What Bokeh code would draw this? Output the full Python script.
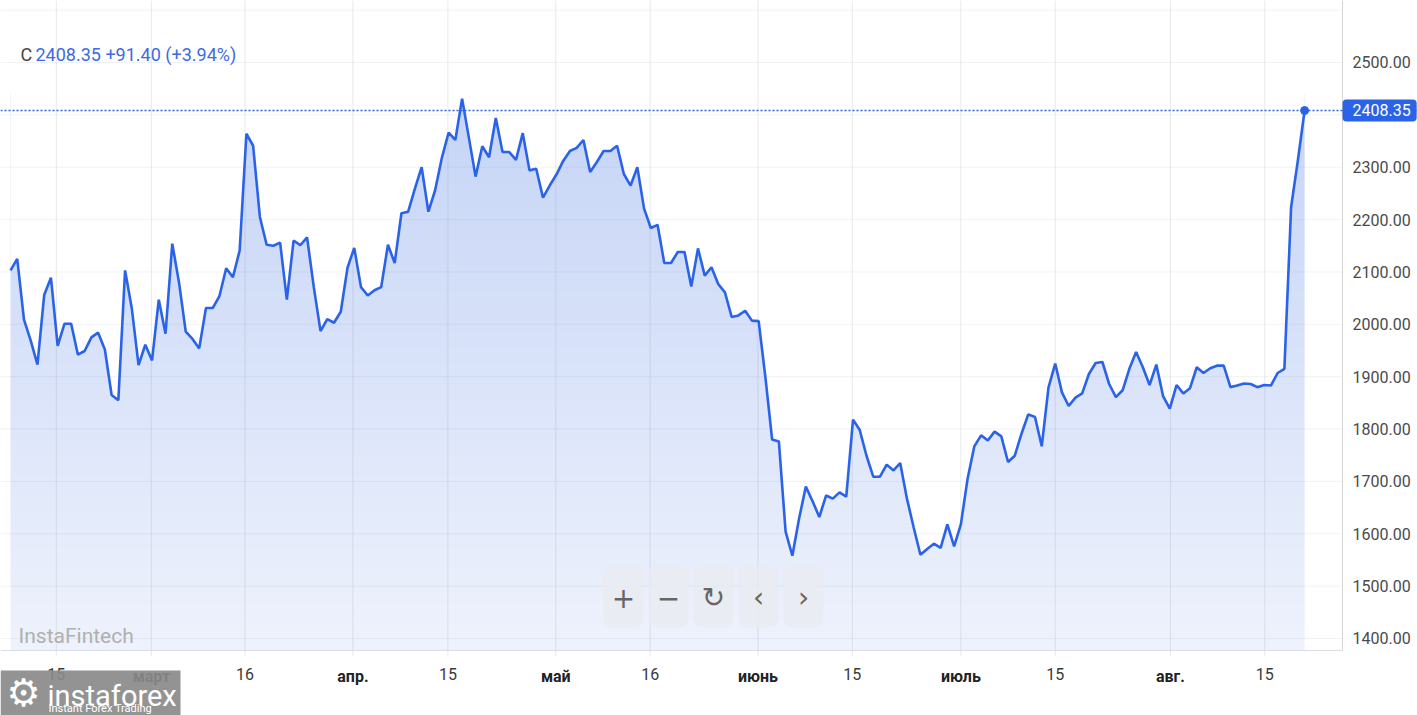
import numpy as np
from bokeh.plotting import figure
from bokeh.models import (Range1d, FixedTicker, Span, Label, BoxAnnotation,
                          NumeralTickFormatter, LinearAxis)
from bokeh.embed import file_html
from bokeh.resources import INLINE

# ---------------- data ----------------
ticker_name = "C"
last_price = 2408.35
change_abs = 91.40
change_pct = 3.94

prices = [
    2103, 2125, 2009, 1969, 1923, 2056, 2089, 1959, 2001, 2001, 1942, 1949, 1975, 1984, 1952,
    1865, 1855, 2103, 2030, 1922, 1961, 1931, 2047, 1982, 2154, 2080, 1986, 1972, 1954, 2031,
    2031, 2054, 2107, 2090, 2141, 2364, 2341, 2205,
    2152, 2150, 2156, 2047, 2160, 2151, 2166, 2071, 1987, 2010, 2003, 2024, 2108, 2146, 2071,
    2055, 2065, 2071, 2152, 2117, 2212, 2215, 2259, 2300, 2215, 2256, 2318, 2366, 2352, 2431,
    2357, 2282, 2340, 2319, 2394, 2329, 2329,
    2314, 2365, 2294, 2297, 2242, 2265, 2286, 2312, 2331, 2337, 2352, 2291, 2310, 2331, 2331,
    2341, 2287, 2265, 2300, 2221, 2184, 2190, 2117, 2117, 2138, 2138, 2072, 2145, 2093, 2109,
    2077, 2061, 2014, 2017, 2026, 2007, 2006, 1899, 1780,
    1776, 1604, 1558, 1629, 1690, 1662, 1632, 1673, 1667, 1679, 1671, 1818, 1798, 1749, 1709,
    1709, 1732, 1721, 1735, 1667, 1612, 1560, 1571, 1581, 1573, 1618, 1576, 1618, 1705, 1767,
    1788, 1778, 1795, 1786, 1737, 1749,
    1791, 1828, 1823, 1767, 1879, 1925, 1870, 1844, 1860, 1868, 1905, 1926, 1928, 1886, 1861,
    1874, 1915, 1947, 1918, 1884, 1923, 1863, 1839, 1884, 1868, 1878, 1918, 1907, 1916, 1921,
    1921, 1880, 1883, 1887, 1886, 1880, 1884, 1883, 1907, 1915, 2224, 2313, 2408.35,
]
days = list(range(len(prices)))

tick_days = [6.8, 20.9, 34.8, 50.8, 64.9, 80.9, 94.9, 110.9, 124.9, 141.0, 155.0, 172.1, 186.1]
tick_labels = ["15", "март", "16", "апр.", "15", "май", "16", "июнь", "15", "июль", "15", "авг.", "15"]
month_labels = {"март", "апр.", "май", "июнь", "июль", "авг."}

y_axis_ticks = [1400, 1500, 1600, 1700, 1800, 1900, 2000, 2100, 2200, 2300, 2500]
y_grid_ticks = [1400, 1500, 1600, 1700, 1800, 1900, 2000, 2100, 2200, 2300, 2400, 2500, 2600]

watermark = "InstaFintech"
logo_main = "instaforex"
logo_sub = "Instant Forex Trading"
buttons = ["+", "−", "↻", "‹", "›"]

# ---------------- layout constants ----------------
FONT = "Roboto"
BLUE = "#2b63e8"
W, H = 1417, 715
X_MIN, X_MAX = -1.484, 208.75        # visible index range
Y_MIN, Y_MAX = 1252.9, 2618.4        # visible value range
AXIS_X = 197.63                      # where the price axis sits
AXIS_Y = 1377.0                      # where the time axis sits
TICK_Y = 1365.5                      # end of the small time ticks
GRAD_TOP = 2440.0                    # level where the fill gradient is darkest
FILL_BOTTOM = (238, 242, 252)
FILL_TOP = (197, 212, 246)

p = figure(width=W, height=H, output_backend="svg", toolbar_location=None,
           x_range=Range1d(X_MIN, X_MAX), y_range=Range1d(Y_MIN, Y_MAX),
           x_axis_location=None, y_axis_location=None,
           min_border_left=0, min_border_right=0, min_border_top=0, min_border_bottom=0,
           background_fill_color="white", border_fill_color="white", outline_line_color=None)
p.xgrid.visible = False
p.ygrid.visible = False

# vertical gradient fill under the line: gradient image, masked above the line
n = 256
tt = np.linspace(0.0, 1.0, n)[:, None]
rgba = np.zeros((n, 1, 4), dtype=np.uint8)
for c in range(3):
    rgba[:, :, c] = np.round(FILL_BOTTOM[c] + (FILL_TOP[c] - FILL_BOTTOM[c]) * tt).astype(np.uint8)
rgba[:, :, 3] = 255
img = rgba.view(dtype=np.uint32).reshape((n, 1))
p.image_rgba(image=[img], x=days[0], y=AXIS_Y, dw=days[-1] - days[0], dh=GRAD_TOP - AXIS_Y)
arr = np.array(prices, dtype=float)
p.varea(x=days, y1=arr, y2=Y_MAX, fill_color="white")

# grid lines (stop at the axes), drawn over the fill
p.segment(x0=X_MIN, x1=AXIS_X, y0=y_grid_ticks, y1=y_grid_ticks,
          line_color="#8a90a0", line_alpha=0.12, line_width=1)
p.segment(x0=tick_days, x1=tick_days, y0=TICK_Y, y1=Y_MAX,
          line_color="#8a90a0", line_alpha=0.2, line_width=1)

p.line(days, arr, line_color=BLUE, line_width=2.6)
p.add_layout(Span(location=last_price, dimension="width", line_color=BLUE,
                  line_width=1.6, line_dash="2 2"))
p.scatter(x=[days[-1]], y=[prices[-1]], size=8, color=BLUE)

# time axis
xa = LinearAxis(fixed_location=AXIS_Y, bounds=(X_MIN, AXIS_X),
                ticker=FixedTicker(ticks=tick_days))
xa.major_label_overrides = {d: ("" if l in month_labels else l) for d, l in zip(tick_days, tick_labels)}
xa.axis_line_color = "#d9dde6"
xa.major_tick_line_color = None
xa.major_tick_out = 0
xa.major_tick_in = 0
xa.minor_tick_line_color = None
xa.major_label_text_font = FONT
xa.major_label_text_font_size = "16px"
xa.major_label_text_color = "#3a3a3a"
xa.major_label_standoff = 17
p.add_layout(xa, "below")

# price axis
ya = LinearAxis(fixed_location=AXIS_X, bounds=(AXIS_Y, Y_MAX),
                ticker=FixedTicker(ticks=y_axis_ticks),
                formatter=NumeralTickFormatter(format="0.00"))
ya.axis_line_color = "#d5d5d5"
ya.major_tick_line_color = None
ya.major_tick_out = 0
ya.major_tick_in = 0
ya.minor_tick_line_color = None
ya.major_label_text_font = FONT
ya.major_label_text_font_size = "16px"
ya.major_label_text_color = "#4a4a4a"
ya.major_label_standoff = 10
p.add_layout(ya, "right")

# month labels (bolder)
for d, l in zip(tick_days, tick_labels):
    if l in month_labels:
        p.add_layout(Label(x=d, y=39, y_units="screen", text=l, text_align="center",
                           text_baseline="middle", text_font=FONT, text_font_size="16px",
                           text_font_style="bold", text_color="#222222"))

# price tag on the price axis
p.add_layout(Label(x=1342, x_units="screen", y=last_price, text=f"{last_price:.2f}",
                   text_align="left", text_baseline="middle", text_color="white",
                   text_font=FONT, text_font_size="16px",
                   background_fill_color=BLUE, border_radius=4,
                   padding=dict(left=10, right=6, top=5, bottom=5)))

# header
p.add_layout(Label(x=20, y=661, x_units="screen", y_units="screen", text=ticker_name,
                   text_baseline="middle", text_font=FONT, text_font_size="18px",
                   text_color="#444444"))
p.add_layout(Label(x=35, y=661, x_units="screen", y_units="screen",
                   text=f"{last_price:.2f}  {change_abs:+.2f} ({change_pct:+.2f}%)",
                   text_baseline="middle", text_font=FONT, text_font_size="18px",
                   text_color="#3d6be0"))

# watermark
p.add_layout(Label(x=18, y=80, x_units="screen", y_units="screen", text=watermark,
                   text_baseline="alphabetic", text_font=FONT, text_font_size="21px",
                   text_color="#b0b0b0"))

# zoom/pan buttons (UI overlay)
for i, b in enumerate(buttons):
    left = 603 + i * 45
    p.add_layout(BoxAnnotation(left=left, right=left + 40, bottom=88, top=150,
                               left_units="screen", right_units="screen",
                               bottom_units="screen", top_units="screen",
                               fill_color="#e9ebf0", fill_alpha=0.75, line_color=None,
                               border_radius=8))
    p.add_layout(Label(x=left + 20, y=118, x_units="screen", y_units="screen", text=b,
                       text_align="center", text_baseline="middle",
                       text_font="DejaVu Sans", text_font_size="28px", text_color="#666666"))

# logo block bottom-left
p.add_layout(BoxAnnotation(left=0, right=180, top=45, bottom=0,
                           left_units="screen", right_units="screen",
                           bottom_units="screen", top_units="screen",
                           fill_color="#8a8a8a", fill_alpha=0.92, line_color=None))
p.add_layout(Label(x=23, y=23, x_units="screen", y_units="screen", text="⚙",
                   text_align="center", text_baseline="middle", text_font="DejaVu Sans",
                   text_font_size="38px", text_color="white"))
p.add_layout(Label(x=47, y=20, x_units="screen", y_units="screen", text=logo_main,
                   text_baseline="alphabetic", text_font=FONT, text_font_size="29px",
                   text_color="white"))
p.add_layout(Label(x=48, y=7, x_units="screen", y_units="screen", text=logo_sub,
                   text_baseline="alphabetic", text_font=FONT, text_font_size="11px",
                   text_color="white"))

open("out.html", "w").write(file_html(p, INLINE))
